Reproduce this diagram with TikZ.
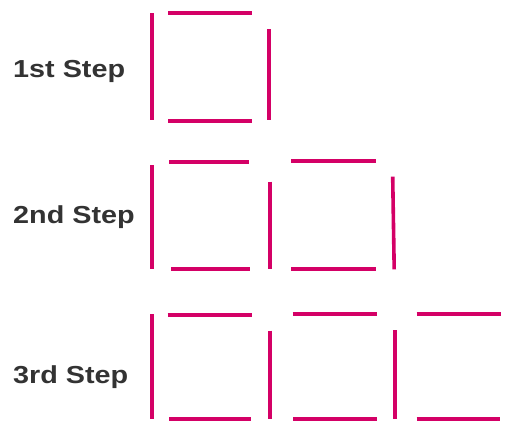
\documentclass[tikz,border=0pt]{standalone}
\usepackage{fontspec}
\usepackage{graphicx}
\setmainfont{Liberation Sans}
\definecolor{stickred}{RGB}{212,0,102}
\definecolor{labelgray}{RGB}{51,51,51}
\newcommand{\widetext}[1]{\scalebox{1.17}[1]{#1}}
\tikzset{
  stick/.style={draw=stickred, line width=3.6pt},
  steplabel/.style={anchor=base west, inner sep=0pt, text=labelgray,
    font=\fontsize{24.6}{28}\selectfont\bfseries}
}

\begin{document}
\begin{tikzpicture}[x=1pt, y=-1pt]
    \useasboundingbox (0,0) rectangle (512,421);
    % labels
    \node[steplabel] (s1) at (13,77.7) {\widetext{1st Step}};
    \node[steplabel] (s2) at (13,223) {\widetext{2nd Step}};
    \node[steplabel] (s3) at (13,383) {\widetext{3rd Step}};
    % 1st step
    \draw[stick] (151.7,13) -- (151.7,120);
    \draw[stick] (168,12.7) -- (252,12.7);
    \draw[stick] (269,29) -- (269,120);
    \draw[stick] (168,120.7) -- (252,120.7);
    % 2nd step
    \draw[stick] (151.7,165) -- (151.7,269);
    \draw[stick] (169,161.7) -- (249,161.7);
    \draw[stick] (171,269) -- (250,269);
    \draw[stick] (270,181.7) -- (270,269);
    \draw[stick] (291,161) -- (375.7,161);
    \draw[stick] (291,269) -- (376,269);
    \draw[stick] (392.7,176.7) -- (394.2,269.3);
    % 3rd step
    \draw[stick] (151.7,314) -- (151.7,419);
    \draw[stick] (167.7,314.7) -- (252,314.7);
    \draw[stick] (169,418.7) -- (251,418.7);
    \draw[stick] (270,330.7) -- (270,419);
    \draw[stick] (292.7,314) -- (376.7,314);
    \draw[stick] (293,418.7) -- (376.7,418.7);
    \draw[stick] (394.7,330) -- (394.7,419);
    \draw[stick] (416.7,314) -- (500.7,314);
    \draw[stick] (416.7,418.7) -- (500,418.7);
\end{tikzpicture}
\end{document}
